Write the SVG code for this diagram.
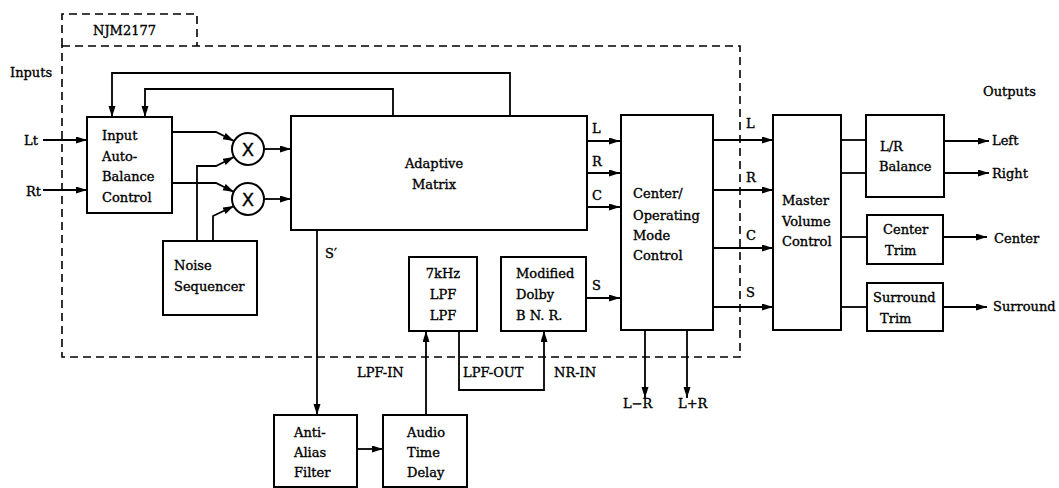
<svg xmlns="http://www.w3.org/2000/svg" width="1059" height="488" viewBox="0 0 1059 488">
<defs>
<marker id="arr" markerUnits="userSpaceOnUse" markerWidth="12" markerHeight="8" refX="11" refY="3.5" orient="auto">
<path d="M0,0 L11,3.5 L0,7 z" fill="#000"/>
</marker>
<style>
.box{fill:#fff;stroke:#000;stroke-width:2}
.dash{fill:none;stroke:#000;stroke-width:1.6;stroke-dasharray:8 5}
.ln{fill:none;stroke:#000;stroke-width:1.8}
.a{marker-end:url(#arr)}
text{font-family:"DejaVu Serif","Liberation Serif",serif;font-size:13px;fill:#000;stroke:#000;stroke-width:0.35}
.m{text-anchor:middle}
</style>
</defs>
<rect width="1059" height="488" fill="#fff"/>
<g id="chip">
<path class="dash" d="M62,46 V14 H197 V46"/>
<rect class="dash" x="62" y="46" width="678" height="311"/>
<text x="93" y="35">NJM2177</text>
</g>
<g id="labels">
<text x="10" y="77">Inputs</text>
<text x="983" y="96">Outputs</text>
<text x="24" y="145">Lt</text>
<text x="26" y="196">Rt</text>
<text x="325" y="258">S′</text>
<text x="592" y="133">L</text>
<text x="592" y="166">R</text>
<text x="592" y="200">C</text>
<text x="592" y="290">S</text>
<text x="746" y="128">L</text>
<text x="746" y="182">R</text>
<text x="746" y="240">C</text>
<text x="746" y="297">S</text>
<text x="357" y="377">LPF-IN</text>
<text x="463" y="377">LPF-OUT</text>
<text x="554" y="377">NR-IN</text>
<text x="623" y="408">L−R</text>
<text x="678" y="408">L+R</text>
<text x="992" y="145">Left</text>
<text x="992" y="178">Right</text>
<text x="994" y="243">Center</text>
<text x="993" y="311">Surround</text>
</g>
<g id="connectors">
<path class="ln a" d="M43,140 H87"/>
<path class="ln a" d="M43,190 H87"/>
<path class="ln a" d="M510,116 V73 H112 V117"/>
<path class="ln a" d="M393,116 V89 H145 V117"/>
<path class="ln a" d="M172,132 H216 L234,141"/>
<path class="ln a" d="M172,183 H216 L234,192"/>
<path class="ln a" d="M197,241 V166 H216 L234,157"/>
<path class="ln a" d="M213,241 V216 L234,206"/>
<path class="ln a" d="M264,149 H291"/>
<path class="ln a" d="M264,199 H291"/>
<path class="ln a" d="M587,141 H620"/>
<path class="ln a" d="M587,173 H620"/>
<path class="ln a" d="M587,207 H620"/>
<path class="ln a" d="M586,298 H620"/>
<path class="ln a" d="M317,230 V415"/>
<path class="ln a" d="M426,415 V331"/>
<path class="ln a" d="M459,331 V390 H544 V331"/>
<path class="ln a" d="M357,449 H383"/>
<path class="ln a" d="M645,330 V398"/>
<path class="ln a" d="M687,330 V398"/>
<path class="ln a" d="M713,140 H773"/>
<path class="ln a" d="M713,190 H773"/>
<path class="ln a" d="M713,248 H773"/>
<path class="ln a" d="M713,307 H773"/>
<path class="ln" d="M841,140 H866"/>
<path class="ln" d="M841,173 H866"/>
<path class="ln" d="M841,237 H867"/>
<path class="ln" d="M841,307 H867"/>
<path class="ln a" d="M944,141 H989"/>
<path class="ln a" d="M944,173 H989"/>
<path class="ln a" d="M943,237 H987"/>
<path class="ln a" d="M943,307 H987"/>
</g>
<g id="input-balance">
<rect class="box" x="87" y="117" width="85" height="96"/>
<text x="102" y="140">Input</text>
<text x="102" y="161">Auto-</text>
<text x="102" y="181">Balance</text>
<text x="102" y="202">Control</text>
</g>
<g id="mult1">
<circle class="box" cx="248" cy="149" r="16"/>
<text class="m" x="248" y="156" style="font-family:'DejaVu Sans',sans-serif;font-size:18px">X</text>
</g>
<g id="mult2">
<circle class="box" cx="248" cy="199" r="16"/>
<text class="m" x="248" y="206" style="font-family:'DejaVu Sans',sans-serif;font-size:18px">X</text>
</g>
<g id="noise">
<rect class="box" x="163" y="241" width="94" height="74"/>
<text x="174" y="270">Noise</text>
<text x="174" y="291">Sequencer</text>
</g>
<g id="matrix">
<rect class="box" x="291" y="116" width="296" height="114"/>
<text class="m" x="434" y="168">Adaptive</text>
<text class="m" x="434" y="189">Matrix</text>
</g>
<g id="lpf">
<rect class="box" x="409" y="257" width="68" height="74"/>
<text class="m" x="443" y="278">7kHz</text>
<text class="m" x="443" y="299">LPF</text>
<text class="m" x="443" y="320">LPF</text>
</g>
<g id="dolby">
<rect class="box" x="501" y="257" width="85" height="74"/>
<text x="516" y="278">Modified</text>
<text x="516" y="299">Dolby</text>
<text x="516" y="320">B N. R.</text>
</g>
<g id="center-mode">
<rect class="box" x="621" y="115" width="92" height="215"/>
<text x="633" y="198">Center/</text>
<text x="633" y="220">Operating</text>
<text x="633" y="240">Mode</text>
<text x="633" y="260">Control</text>
</g>
<g id="master">
<rect class="box" x="773" y="115" width="68" height="215"/>
<text x="782" y="205">Master</text>
<text x="782" y="226">Volume</text>
<text x="782" y="246">Control</text>
</g>
<g id="lr-balance">
<rect class="box" x="866" y="115" width="78" height="82"/>
<text x="880" y="151">L/R</text>
<text x="879" y="171">Balance</text>
</g>
<g id="center-trim">
<rect class="box" x="867" y="215" width="76" height="49"/>
<text x="883" y="234">Center</text>
<text x="885" y="255">Trim</text>
</g>
<g id="surround-trim">
<rect class="box" x="867" y="283" width="76" height="48"/>
<text x="873" y="302">Surround</text>
<text x="880" y="323">Trim</text>
</g>
<g id="anti-alias">
<rect class="box" x="274" y="415" width="83" height="72"/>
<text x="294" y="437">Anti-</text>
<text x="294" y="457">Alias</text>
<text x="294" y="477">Filter</text>
</g>
<g id="delay">
<rect class="box" x="383" y="415" width="84" height="72"/>
<text x="407" y="437">Audio</text>
<text x="407" y="457">Time</text>
<text x="407" y="477">Delay</text>
</g>
</svg>
